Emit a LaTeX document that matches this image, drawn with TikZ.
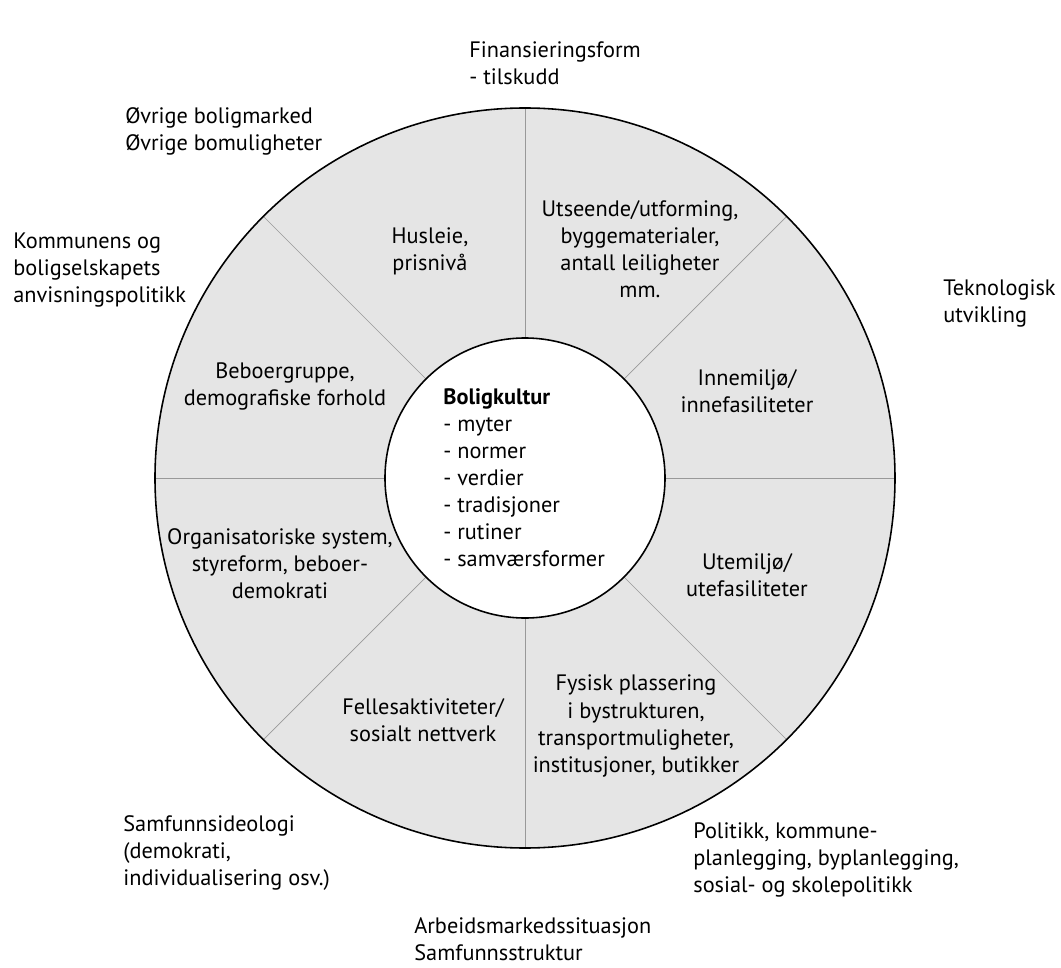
\documentclass[tikz,border=0pt]{standalone}
\usepackage{fontspec}
\setmainfont{PT Sans}

\begin{document}
\begin{tikzpicture}[
  txt/.style={font=\fontsize{12.7}{15.4}\selectfont, align=center, inner sep=0pt},
  outtxt/.style={txt, align=left, anchor=west},
  divider/.style={gray!80, line width=0.4pt},
  rim/.style={black, line width=0.9pt}
]
\useasboundingbox (-10.5,-9.78) rectangle (10.72,9.56);

% ring with sectors
\fill[black!10, even odd rule] (0,0) circle [radius=7.4] (0,0) circle [radius=2.8];
\foreach \a in {0,45,...,315}
  \draw[divider] (\a:2.8) -- (\a:7.4);
\draw[rim] (0,0) circle [radius=7.4];
\draw[rim] (0,0) circle [radius=2.8];

% centre
\node[txt, align=left, anchor=west] (kultur) at (-1.64,0)
  {\textbf{Boligkultur}\\ - myter\\ - normer\\ - verdier\\ - tradisjoner\\ - rutiner\\ - samværsformer};

% sectors
{
\node[txt] (husleie) at (-1.9,4.54) {Husleie,\\ prisnivå};
\node[txt] (utseende) at (2.3,4.58) {Utseende/utforming,\\ byggematerialer,\\ antall leiligheter\\ mm.};
\node[txt] (innemiljo) at (4.44,1.74) {Innemiljø/\\ innefasiliteter};
\node[txt] (utemiljo) at (4.44,-1.94) {Utemiljø/\\ utefasiliteter};
\node[txt] (fysisk) at (2.22,-4.96) {Fysisk plassering\\ i bystrukturen,\\ transportmuligheter,\\ institusjoner, butikker};
\node[txt] (felles) at (-2.04,-4.84) {Fellesaktiviteter/\\ sosialt nettverk};
\node[txt] (organisasjon) at (-4.9,-1.72) {Organisatoriske system,\\ styreform, beboer-\\ demokrati};
\node[txt] (beboer) at (-4.8,1.84) {Beboergruppe,\\ demografiske forhold};
}

% outside
{
\node[outtxt] (finans) at (-1.12,8.29) {Finansieringsform\\ - tilskudd};
\node[outtxt] (ovrige) at (-8.0,6.93) {Øvrige boligmarked\\ Øvrige bomuligheter};
\node[outtxt] (kommune) at (-10.24,4.16) {Kommunens og\\ boligselskapets\\ anvisningspolitikk};
\node[outtxt] (teknologi) at (8.36,3.5) {Teknologisk\\ utvikling};
\node[outtxt] (ideologi) at (-8.04,-7.5) {Samfunnsideologi\\ (demokrati,\\ individualisering osv.)};
\node[outtxt] (arbeid) at (-2.22,-9.22) {Arbeidsmarkedssituasjon\\ Samfunnsstruktur};
\node[outtxt] (politikk) at (3.36,-7.64) {Politikk, kommune-\\ planlegging, byplanlegging,\\ sosial- og skolepolitikk};
}

\end{tikzpicture}
\end{document}
